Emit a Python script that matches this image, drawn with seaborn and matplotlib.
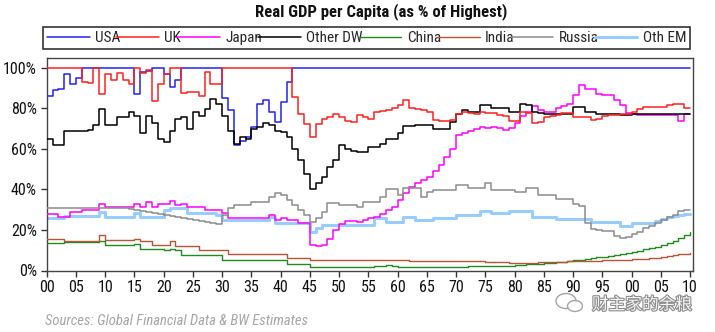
import matplotlib
matplotlib.use("Agg")
import matplotlib.pyplot as plt
import matplotlib.patheffects as pe
from matplotlib.patches import Ellipse
import seaborn as sns

# ---------------- data (annual, % of highest) ----------------
years = list(range(1900, 2011))

usa = [
    86, 89, 89.5, 97, 92, 95, 100, 100, 100, 100,
    100, 100, 100, 100, 100, 87, 98, 98.5, 100, 100,
    97, 90.5, 94, 100, 100, 100, 100, 100, 100, 100,
    85, 79, 62, 64, 66, 71, 82, 84, 78, 73.5,
    83, 93, 100, 100, 100, 100, 100, 100, 100, 100,
    100, 100, 100, 100, 100, 100, 100, 100, 100, 100,
    100, 100, 100, 100, 100, 100, 100, 100, 100, 100,
    100, 100, 100, 100, 100, 100, 100, 100, 100, 100,
    100, 100, 100, 100, 100, 100, 100, 100, 100, 100,
    100, 100, 100, 100, 100, 100, 100, 100, 100, 100,
    100, 100, 100, 100, 100, 100, 100, 100, 100, 100,
    100,
]

uk = [
    100, 100, 100, 100, 100, 100, 93, 92.7, 99.7, 87,
    97, 93.8, 97.5, 93.8, 91.8, 100, 97.5, 99, 83.4, 92,
    97, 100, 100, 87.8, 88, 88, 86, 98, 92, 92,
    100, 100, 100, 100, 100, 100, 100, 100, 100, 100,
    100, 100, 85.6, 77.4, 72.5, 66, 72.5, 75, 75.8, 77.4,
    75.7, 74, 73.3, 76.6, 75.8, 75, 78, 78.5, 79, 80,
    81.5, 84, 80, 79.5, 79, 78, 74.5, 74, 74, 74.5,
    77, 78, 77.5, 77, 78, 77.5, 77.5, 76.5, 76, 74,
    74, 78, 77.5, 73, 73.5, 75.5, 76, 76.5, 77.5, 77.5,
    75.5, 75.5, 75.5, 74.5, 75, 76, 76.5, 76.5, 77, 77,
    78, 79.5, 80.5, 80.5, 80.5, 80.5, 81.5, 82, 82, 80,
    80,
]

japan = [
    27.7, 27.7, 26.6, 26.6, 29, 29, 29.8, 29.8, 29.8, 32.8,
    31.5, 31.5, 31.5, 31.5, 31.5, 33, 31.5, 34, 31.5, 33,
    33, 34.4, 32.3, 33, 31.5, 31.5, 31.5, 30, 30, 30,
    28.2, 25.8, 25.8, 25.8, 25.8, 25.8, 25.8, 25.8, 27.4, 25,
    25.8, 25, 25, 23.3, 23.3, 12.5, 12.2, 12.5, 15.5, 20,
    23, 24.5, 24.5, 24, 25, 25.7, 26.5, 28, 30, 31.4,
    35, 38, 41.3, 43, 44.6, 46, 49, 52, 56, 60,
    66.7, 68, 69, 70, 70.8, 70.5, 70.8, 70.5, 69.5, 70.5,
    73, 76, 78, 81, 79, 78, 78, 80, 81, 82,
    86.5, 91.7, 89.7, 89.5, 87, 86.8, 86.8, 84, 81.5, 77.5,
    77, 76.6, 76.6, 76.6, 76.6, 76.8, 76.6, 76.8, 74, 77,
    77,
]

other_dw = [
    65, 61.7, 61.7, 69, 69, 69, 69, 69.3, 72, 79.6,
    72, 72, 75.5, 75.5, 78, 76.3, 68, 76, 73, 65,
    63.3, 69, 74.7, 75.5, 69.8, 78, 76.3, 79.6, 84.5, 82,
    76, 69, 62.5, 66, 65, 69.8, 71, 73, 72, 69,
    68.2, 65.7, 60, 54.3, 47.8, 40, 43, 46, 51, 54.3,
    61.7, 60, 59, 58.4, 58.5, 61, 61, 62.6, 65, 65,
    67.6, 71.2, 71.2, 71.7, 71.7, 71.7, 70, 70, 70, 73.3,
    77, 79, 78, 78, 81.5, 81.5, 80, 80, 80, 78,
    78, 82, 81.5, 78, 77.5, 77.4, 77.4, 77.4, 77.4, 77.4,
    80.7, 80.7, 78.2, 78, 77.4, 77.4, 77.4, 77.4, 76.6, 76.6,
    77, 77, 77, 77, 77, 77, 77, 77, 77, 77,
    77,
]

china = [
    13.5, 13.5, 13.5, 14, 14, 14, 14, 14, 14, 14.5,
    12.7, 12.7, 12.7, 12.7, 12.7, 13, 10.6, 10.6, 10.6, 10.6,
    10.3, 10.8, 10.3, 7.8, 7.8, 7.8, 7.8, 7.8, 7.8, 7.8,
    5.4, 5.4, 5.4, 5.4, 5.4, 5.4, 5.4, 5.4, 5.4, 5.4,
    5.4, 3.3, 3.3, 3.3, 3.3, 1.8, 1.8, 1.8, 1.8, 1.8,
    1.8, 1.8, 1.8, 1.9, 1.9, 1.9, 2.2, 2.2, 2.6, 2.2,
    1.8, 1.5, 1.5, 1.5, 1.6, 1.7, 1.8, 1.8, 1.8, 1.8,
    1.9, 1.9, 2, 2, 2, 2, 2, 2, 2.2, 2.4,
    2.7, 2.9, 3, 3.2, 3.4, 3.6, 3.8, 4, 4.3, 4.6,
    5, 5.4, 5.8, 6.2, 6.6, 6.9, 7.2, 7.6, 8.2, 8.7,
    9.3, 9.8, 10.4, 11, 11.7, 12.5, 13.5, 14.8, 16, 17.5,
    18.8,
]

india = [
    15.7, 15.7, 15.7, 14.8, 14.8, 14.8, 14.8, 14.8, 14.8, 17.3,
    15.2, 15.2, 15.2, 15, 15, 15.5, 14.4, 14.4, 12.7, 12.7,
    12.7, 14.4, 12, 12, 12, 12, 10.3, 10.3, 10.3, 10.3,
    10.3, 8.3, 8.3, 8.3, 8.3, 8.3, 8.3, 8.3, 8.3, 8.3,
    8.3, 6.2, 6.2, 6.2, 6.2, 5, 5, 5, 5, 5,
    5, 5, 5, 5, 5, 5, 5, 5, 5, 5,
    5, 5, 4.8, 4.8, 4.8, 4.8, 4.5, 4.5, 4.5, 4.5,
    4.5, 4.5, 4.5, 4.5, 4.5, 4.2, 4.2, 4.2, 4, 3.8,
    3.5, 3.5, 3.7, 3.8, 4, 4, 4.2, 4.2, 4.3, 4.5,
    4.6, 4.6, 4.7, 4.8, 4.9, 5, 5.1, 5.2, 5.3, 5.4,
    5.5, 5.6, 5.8, 6, 6.3, 6.8, 7.2, 7.6, 8, 8.3,
    8.6,
]

russia = [
    30.7, 30.7, 30.7, 30.7, 30.7, 30.7, 30.7, 30.7, 30.7, 30.7,
    30.7, 30.7, 30.7, 30.7, 30.5, 30, 29.5, 29, 28.5, 28,
    27.5, 27, 26.5, 26, 25.5, 25, 24.5, 24, 23.5, 23,
    27.4, 30.7, 32.3, 32.3, 32.3, 34, 34, 34, 36.4, 38.3,
    37.2, 35, 32.5, 30, 27.5, 24, 25.8, 29, 33.1, 33.1,
    32.3, 32.3, 32.3, 31.4, 34, 34, 34, 36.4, 40, 40,
    37.2, 40.5, 40.5, 40.5, 36.4, 38.8, 39.7, 39.7, 39.7, 39.7,
    42, 42, 40.5, 40.5, 40.5, 43, 39.7, 39.7, 39.7, 39.7,
    38.8, 38.8, 40.5, 40.5, 37.2, 37.2, 37.2, 35.5, 35.5, 35.5,
    33, 32, 23.5, 20.5, 20, 19.5, 19.5, 17, 16, 16.5,
    18, 19, 21, 22, 23.5, 25, 26.5, 27.5, 29.5, 30,
    30,
]

oth_em = [
    25.8, 25.8, 25.8, 27, 27, 27, 27, 27, 27, 29,
    26.6, 26.6, 26.6, 26.6, 26.6, 28.2, 26.6, 26.6, 26.6, 26.6,
    29.9, 30.7, 30.7, 30.7, 28.2, 28.2, 28.2, 28.2, 28.2, 27.4,
    25, 25, 25, 25, 25, 25, 25, 25, 26.6, 23.3,
    23.3, 23.3, 23.3, 23.3, 23.3, 19, 21, 22.5, 22.5, 22.5,
    22.5, 22.5, 22.5, 22.4, 22.4, 22.4, 25.7, 25.7, 24, 24,
    24, 26.5, 26.5, 24.9, 24.9, 24.9, 25.7, 25.7, 25.7, 25.7,
    27.3, 27.3, 27.3, 27.3, 29.5, 29.5, 28.5, 28.5, 28.5, 29.5,
    29.5, 29.5, 29.5, 26.5, 26.5, 26.5, 26.5, 25.2, 25.2, 25.2,
    25.2, 25.2, 25.2, 24, 24, 24, 24, 24, 22, 22,
    23.2, 23.2, 23.2, 23.2, 24.5, 25.5, 26.5, 27, 27.5, 28,
    28,
]

series_names = ["USA", "UK", "Japan", "Other DW", "China", "India", "Russia", "Oth EM"]
series_values = [usa, uk, japan, other_dw, china, india, russia, oth_em]
colors = ["#2222EE", "#FF2020", "#FF00FF", "#000000", "#1E8C1E", "#B5553A", "#8C8C8C", "#99CCFF"]
widths = [1.1, 1.1, 1.1, 1.1, 1.0, 1.0, 1.1, 2.2]
zorders = [3, 4, 3, 3, 3, 3, 3, 2]

title_text = "Real GDP per Capita (as % of Highest)"
source_text = "Sources: Global Financial Data & BW Estimates"
watermark_text = "财主家的余粮"
x_ticks = list(range(1900, 2011, 5))
x_tick_labels = [f"{y % 100:02d}" for y in x_ticks]
y_ticks = [0, 20, 40, 60, 80, 100]
y_tick_labels = [f"{v}%" for v in y_ticks]

# ---------------- style ----------------
sns.set_style("white")
plt.rcParams["font.family"] = ["Liberation Sans Narrow", "Roboto Condensed",
                               "Open Sans Condensed", "Liberation Sans", "DejaVu Sans"]
plt.rcParams["font.stretch"] = "condensed"

W, H = 715, 332
fig = plt.figure(figsize=(W / 100, H / 100), dpi=100)
ax = fig.add_axes([46.7 / W, 1 - 270.5 / H, (693 - 46.7) / W, (270.5 - 57.7) / H])

handles = []
for name, vals, c, lw, z in zip(series_names, series_values, colors, widths, zorders):
    sns.lineplot(x=years, y=vals, ax=ax, color=c, linewidth=lw, label=name,
                 drawstyle="steps-post", zorder=z, legend=False)
    handles.append(ax.lines[-1])

ax.set_xlim(1900, 2010.5)
ax.set_ylim(0, 105)
ax.set_xticks(x_ticks)
ax.set_xticklabels(x_tick_labels)
ax.set_yticks(y_ticks)
ax.set_yticklabels(y_tick_labels)
ax.set_xlabel("")
ax.set_ylabel("")
ax.tick_params(axis="both", which="major", direction="out", length=4, width=1,
               color="#333333", labelsize=11.5, labelcolor="#111111", pad=3, bottom=True, left=True)
for s in ax.spines.values():
    s.set_visible(True)
    s.set_color("#444444")
    s.set_linewidth(1.0)

# legend
leg = fig.legend(handles, series_names, ncol=8, loc="lower left",
                 bbox_to_anchor=(43 / W, 1 - 49 / H, (690 - 43) / W, 26 / H),
                 mode="expand", frameon=True, fancybox=False, edgecolor="black",
                 fontsize=11, handlelength=2.8, handletextpad=0.35, borderaxespad=0,
                 borderpad=0.25, columnspacing=0.4)
leg.get_frame().set_linewidth(1.2)

fig.text(381 / W, 1 - 12 / H, title_text, ha="center", va="center",
         fontsize=12, fontweight="bold", color="#111111")
fig.text(45 / W, 1 - 321 / H, source_text, ha="left", va="center",
         fontsize=10.5, style="italic", color="#A6A6A6")

# watermark (icon + text)
for (cx, cy, w, h) in [(566, 301, 20, 15), (575, 306, 15, 11)]:
    fig.patches.append(Ellipse((cx / W, 1 - cy / H), w / W, h / H, transform=fig.transFigure,
                               facecolor="white", edgecolor="#9A9A9A", linewidth=1.0, alpha=0.9))
fig.text(592 / W, 1 - 305 / H, watermark_text, ha="left", va="center",
         fontsize=12, color="#F4F4F4", family=["Noto Sans CJK SC", "DejaVu Sans"],
         path_effects=[pe.withStroke(linewidth=1.6, foreground="#8C8C8C")])

fig.savefig("out.png", dpi=100)
